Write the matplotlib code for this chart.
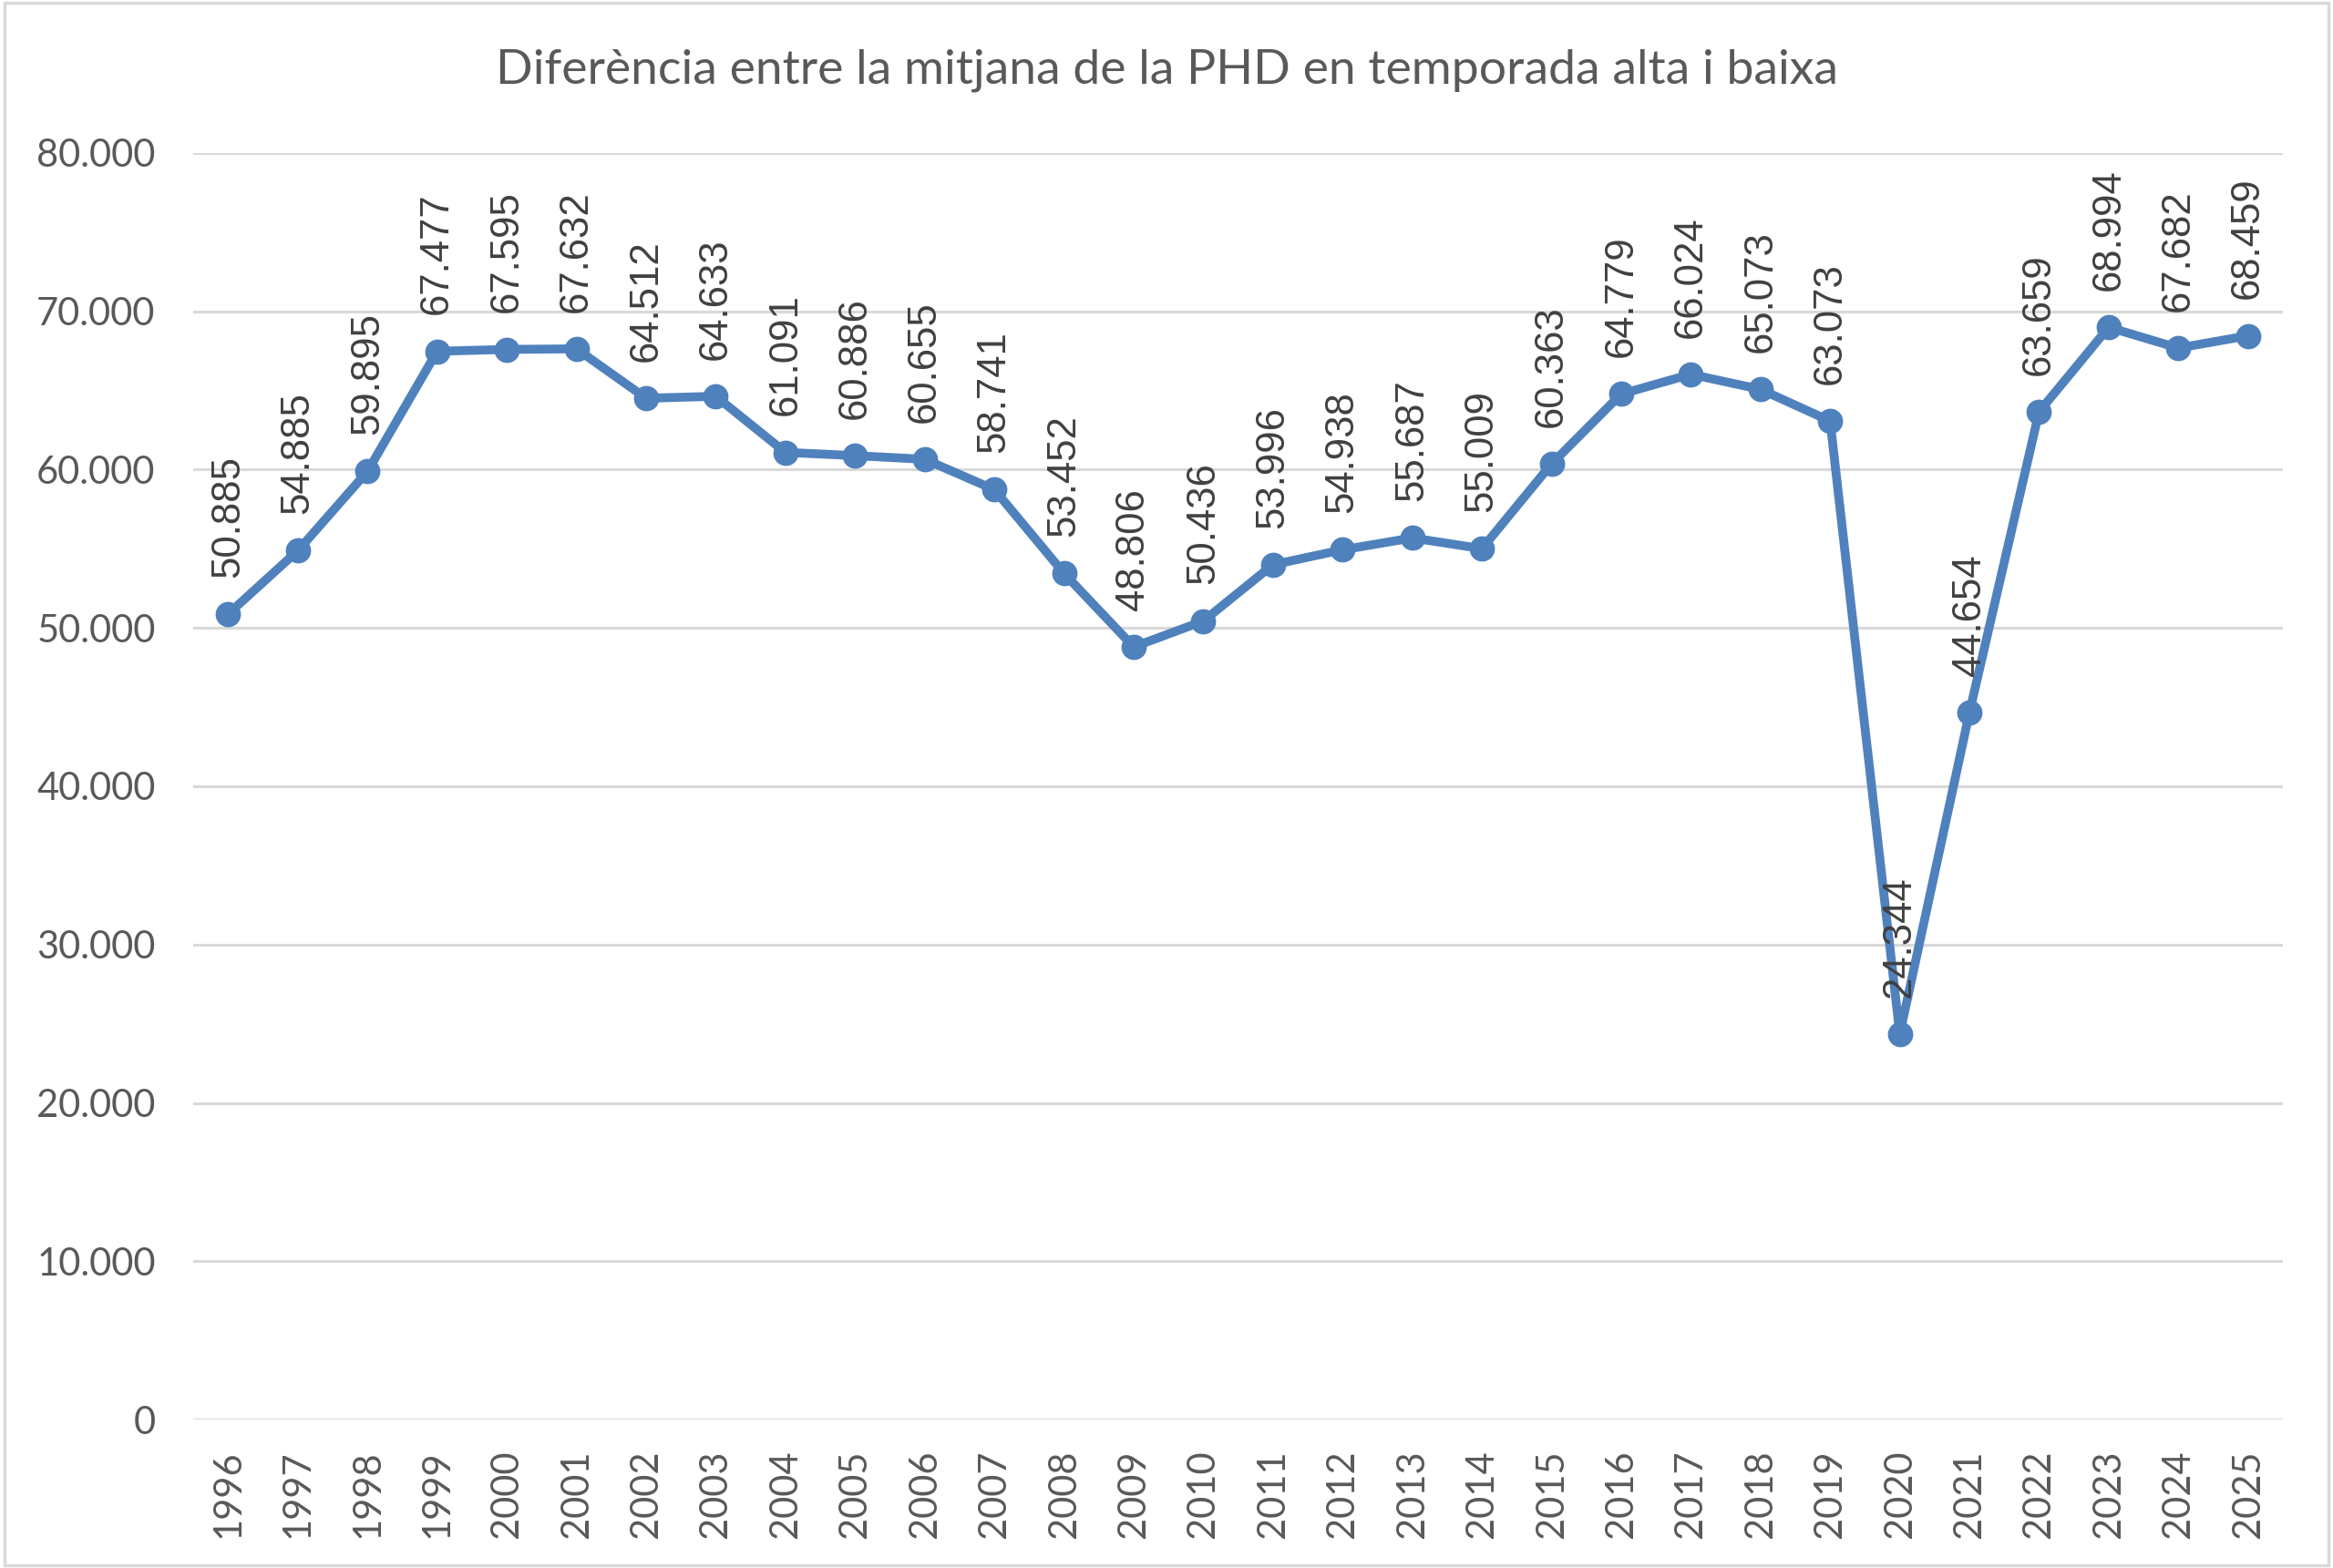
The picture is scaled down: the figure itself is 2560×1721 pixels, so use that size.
import matplotlib.pyplot as plt
from matplotlib.patches import Rectangle

years = [str(y) for y in range(1996, 2026)]
values = [50885, 54885, 59895, 67477, 67595, 67632, 64512, 64633, 61091, 60886,
          60655, 58741, 53452, 48806, 50436, 53996, 54938, 55687, 55009, 60363,
          64779, 66024, 65073, 63073, 24344, 44654, 63659, 68994, 67682, 68459]
yticks = [0, 10000, 20000, 30000, 40000, 50000, 60000, 70000, 80000]
title = "Diferència entre la mitjana de la PHD en temporada alta i baixa"


def fmt(v):
    return "{:,}".format(v).replace(",", ".")


def main():
    fig = plt.figure(figsize=(25.6, 17.21), dpi=100)
    ax = fig.add_axes([0.0829, 0.0947, 0.9785 - 0.0829, 0.9024 - 0.0947])

    x = list(range(len(years)))
    ax.plot(x, values, color="#4F81BD", lw=7, marker="o", ms=19, zorder=3,
            solid_joinstyle="round")

    for xi, v in zip(x, values):
        ax.annotate(fmt(v), (xi, v), xytext=(0, 29), textcoords="offset points",
                    rotation=90, ha="center", va="bottom", fontsize=31.5,
                    family="Liberation Sans", color="#404040", zorder=4)

    ax.set_xlim(-0.5, len(years) - 0.5)
    ax.set_ylim(0, 80000)
    ax.set_xticks(x)
    ax.set_xticklabels(years, rotation=90, fontsize=30, family="Lato", color="#595959")
    ax.set_yticks(yticks)
    ax.set_yticklabels([fmt(t) for t in yticks], fontsize=30, family="Lato", color="#595959")
    ax.tick_params(axis="both", length=0)
    ax.tick_params(axis="y", pad=30)
    ax.tick_params(axis="x", pad=24)
    ax.grid(axis="y", color="#D9D9D9", lw=2.2)
    ax.set_axisbelow(True)
    for s in ax.spines.values():
        s.set_visible(False)

    fig.text(0.5, 0.955, title, ha="center", va="center", fontsize=38.5,
             family="Lato", color="#595959")
    fig.patches.append(Rectangle((0.002, 0.002), 0.996, 0.996, transform=fig.transFigure,
                                 fill=False, edgecolor="#D9D9D9", lw=2.5))

    fig.savefig("out.png", dpi=100)


if __name__ == "__main__":
    main()
